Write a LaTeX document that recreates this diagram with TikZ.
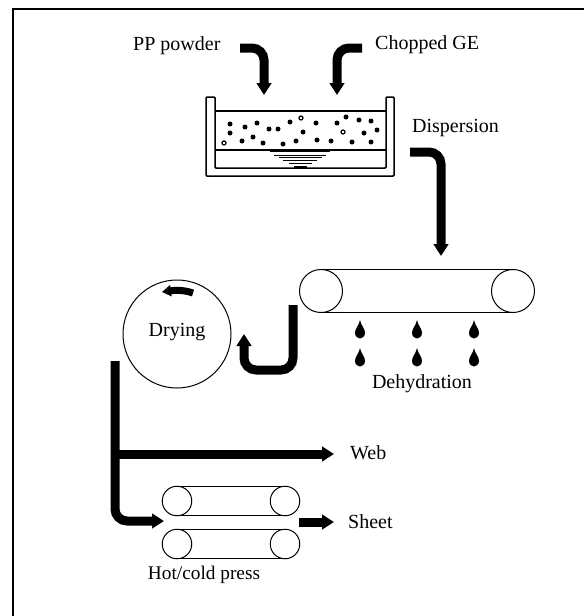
\documentclass[tikz,border=0pt]{standalone}
\usepackage{fontspec}
\setmainfont{Liberation Serif}
\usetikzlibrary{arrows.meta, positioning}

\begin{document}
\begin{tikzpicture}[
    x=1pt, y=-1pt,
    label/.style={inner sep=0pt, font=\fontsize{20}{22}\selectfont},
    drum/.style={circle, draw, line width=1pt, inner sep=0pt, outer sep=0pt},
    belt/.style={line width=1.1pt},
    wall/.style={line width=1.5pt},
    flow/.style={line width=9pt, rounded corners=12pt, -{Triangle[width=14.5pt, length=12pt]}},
    speck/.style={circle, fill=black, inner sep=0pt, minimum size=5pt},
    hollow/.style={circle, draw, line width=1.2pt, inner sep=0pt, minimum size=4pt}
]
    \useasboundingbox (0,0) rectangle (584,616);

    % Frame
    \draw[wall] (13,616) -- (13,9) -- (584,9);

    % Labels
    \node[label, anchor=west] (pp) at (133,46) {PP powder};
    \node[label, anchor=west] (ge) at (375,45) {Chopped GE};
    \node[label, anchor=west] (disp) at (412,128) {Dispersion};
    \node[label, anchor=west] (web) at (350,453) {Web};
    \node[label, anchor=west] (sheet) at (348,522) {Sheet};

    % Tank
    \draw[wall, rounded corners=1pt] (206,97) -- (206,176) -- (394,176) -- (394,97) -- (386,97)
        -- (386,168) -- (215,168) -- (215,97) -- cycle;
    \draw[wall] (215,111) -- (386,111);
    \draw[belt] (215,150) -- (386,150);
    \draw[line width=0.8pt] (270,151.5) -- (330,151.5) (274,155) -- (326,155) (279,157.5) -- (322,157.5)
        (283,160) -- (317,160) (289,163.5) -- (312,163.5);
    \draw[line width=1.8pt] (294,167) -- (307,167);
    \foreach \px/\py in {230/124, 245/127, 257/123, 269/129, 278/129, 290/122, 316/123, 337/123, 346/117,
        359/120, 371/121, 230/133, 253/137, 242/141, 263/143, 283/144, 296/141, 303/132, 317/140,
        331/141, 352/142, 364/133, 377/130, 371/142}
        \node[speck] at (\px,\py) {};
    \foreach \px/\py in {301/118, 224/143, 343/132}
        \node[hollow] at (\px,\py) {};

    % Dehydration belt
    \node[drum, minimum size=43pt] (beltL) at (321,291) {};
    \node[drum, minimum size=43pt, right=149pt of beltL] (beltR) {};
    \draw[belt] (beltL.north) -- (beltR.north);
    \draw[belt] (beltL.south) -- (beltR.south);
    \foreach \px in {360,417,474}
        \foreach \py in {320,348}
            \fill (\px,\py) .. controls (\px+1,\py+6) and (\px+5,\py+8) .. (\px+5,\py+13)
                .. controls (\px+5,\py+16.5) and (\px+2,\py+18.5) .. (\px,\py+18.5)
                .. controls (\px-2,\py+18.5) and (\px-5,\py+16.5) .. (\px-5,\py+13)
                .. controls (\px-5,\py+8) and (\px-1,\py+6) .. (\px,\py);
    \node[label] (dehy) at (422,384) {Dehydration};

    % Drying drum
    \node[drum, minimum size=108pt] (dryer) at (177,334) {};
    \node[label] (dry) at (177,332) {Drying};
    \coordinate (spinA) at (193,293);
    \coordinate (spinB) at (162,292);
    \draw[line width=7pt, -{Triangle[width=11pt, length=9pt]}] (spinA) .. controls (184,290) and (176,290) .. (spinB);

    % Press
    \node[drum, minimum size=29.5pt] (upL) at (177,501) {};
    \node[drum, minimum size=29.5pt, right=78.5pt of upL] (upR) {};
    \node[drum, minimum size=29.5pt] (loL) at (177,544) {};
    \node[drum, minimum size=29.5pt, right=78.5pt of loL] (loR) {};
    \draw[belt] (upL.north) -- (upR.north);
    \draw[belt] (upL.south) -- (upR.south);
    \draw[belt] (loL.north) -- (loR.north);
    \draw[belt] (loL.south) -- (loR.south);
    \node[label, font=\fontsize{19.3}{21}\selectfont] (press) at (204,575) {Hot/cold press};

    % Arrows
    \coordinate (ppA) at (240,48);
    \coordinate (ppB) at (264,95);
    \coordinate (geA) at (362,48);
    \coordinate (geB) at (337,95);
    \coordinate (dispA) at (410,152);
    \coordinate (dispB) at (441,256);
    \coordinate (jA) at (293,305);
    \coordinate (jB) at (293,370);
    \coordinate (jC) at (244,370);
    \coordinate (jD) at (244,334);
    \coordinate (outA) at (115,361);
    \coordinate (outB) at (115,521);
    \coordinate (outC) at (164,521);
    \coordinate (webA) at (115,454);
    \coordinate (webB) at (334,454);
    \coordinate (sheetA) at (299,522);
    \coordinate (sheetB) at (334,522);
    \draw[flow] (ppA) -| (ppB);
    \draw[flow] (geA) -| (geB);
    \draw[flow] (dispA) -| (dispB);
    \draw[flow] (jA) -- (jB) -- (jC) -- (jD);
    \draw[flow] (outA) -- (outB) -- (outC);
    \draw[flow, rounded corners=0pt] (webA) -- (webB);
    \draw[flow] (sheetA) -- (sheetB);
\end{tikzpicture}
\end{document}
